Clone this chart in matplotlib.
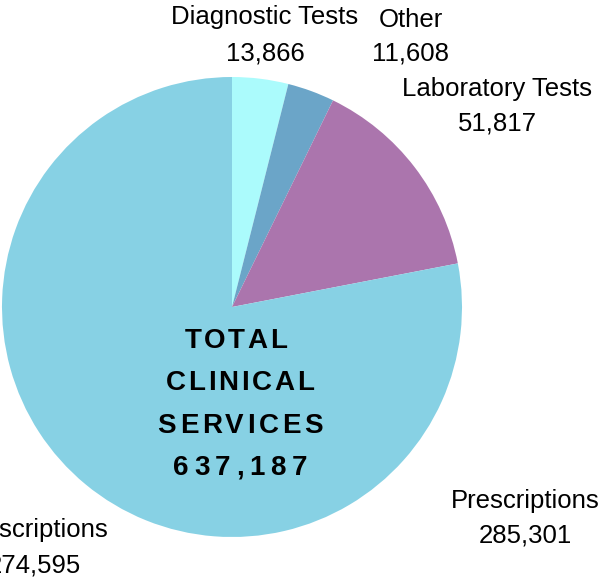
import matplotlib
matplotlib.use("Agg")
import matplotlib.pyplot as plt
from matplotlib.font_manager import FontProperties

# valeurs
labels = ["Diagnostic Tests", "Other", "Laboratory Tests", "Prescriptions"]
values = [13866, 11608, 51817, 274595]
colors = ["#abfbfc", "#6ba5c8", "#ab75ad", "#87d1e4"]
extra_label = "Prescriptions"
extra_value = 285301
total = 637187

W, H = 604, 577
fig = plt.figure(figsize=(W / 100, H / 100), dpi=100)
ax = fig.add_axes([0, 0, 1, 1])

# coordonnées en pixels (y vers le haut)
cx, cy, R = 232, H - 307, 230
ax.pie(values, colors=colors, startangle=90, counterclock=False,
       center=(cx, cy), radius=R, wedgeprops=dict(linewidth=0))
ax.set_xlim(0, W)
ax.set_ylim(0, H)
ax.set_aspect("equal")
ax.axis("off")

font = "Liberation Sans"
fs = 18.5


def label(x, y_name, y_num, name, val):
    ax.text(x, H - y_name, name, ha="center", va="baseline", fontsize=fs, family=font)
    ax.text(x, H - y_num, f"{val:,}", ha="center", va="baseline", fontsize=fs, family=font)


label(265, 24, 60, labels[0], values[0])
label(411, 27, 60, labels[1], values[1])
label(497, 96, 130, labels[2], values[2])
label(525, 508, 542, extra_label, extra_value)
label(34, 537, 573, labels[3], values[3])

# texte central avec espacement des lettres
fp = FontProperties(family=font, weight="bold", size=20)
rend = fig.canvas.get_renderer()


def spaced(x, y, s, track):
    ws = [rend.get_text_width_height_descent(c, fp, ismath=False)[0] for c in s]
    tot = sum(ws) + track * (len(s) - 1)
    xx = x - tot / 2
    for c, w in zip(s, ws):
        ax.text(xx, H - y, c, ha="left", va="baseline", fontproperties=fp)
        xx += w + track


lines = ["TOTAL", "CLINICAL", "SERVICES", f"{total:,}"]
tracks = [2.5, 2.8, 3.5, 5.5]
xs = [236, 240, 240, 240]
for i, s in enumerate(lines):
    spaced(xs[i], 348 + i * 42.3, s, tracks[i])

fig.savefig("out.png", dpi=100)
